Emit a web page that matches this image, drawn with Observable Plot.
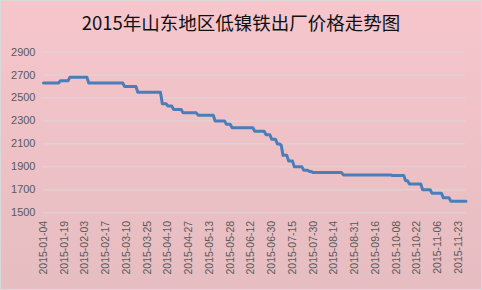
<!DOCTYPE html>
<html>
<head>
<meta charset="utf-8">
<script src="https://cdn.jsdelivr.net/npm/d3@7"></script>
<script src="https://cdn.jsdelivr.net/npm/@observablehq/plot@0.6"></script>
<style>
body { margin: 0; }
#chart { width: 482px; height: 290px; box-sizing: border-box; border: 1px solid #d9d9d9;
  background: linear-gradient(#f6c6cc, #e6bdc1); overflow: hidden; }
#title { height: 36px; box-sizing: border-box; padding-top: 7px; text-align: center;
  font-family: "Noto Sans CJK SC"; font-weight: 400; font-size: 18.5px; line-height: 29px; color: #111; }
svg { display: block; }
</style>
</head>
<body>
<div id="chart"><div id="title">2015年山东地区低镍铁出厂价格走势图</div></div>
<script>
// Category tick labels (one label every 11 trading days)
const tickLabels = ["2015-01-04","2015-01-19","2015-02-03","2015-02-17","2015-03-10","2015-03-25","2015-04-10","2015-04-27","2015-05-13","2015-05-28","2015-06-12","2015-06-30","2015-07-15","2015-07-30","2015-08-14","2015-08-31","2015-09-16","2015-10-08","2015-10-22","2015-11-06","2015-11-23"];
const labelEvery = 11;
const lastDay = 224;
const yTicks = [1500, 1700, 1900, 2100, 2300, 2500, 2700, 2900];

// Price change points: trading-day index and price (yuan)
const pointDay = [0, 8, 9, 13, 14, 23, 24, 42, 43, 49,
  50, 62, 63, 65, 66, 68, 69, 73, 74, 81,
  82, 90, 91, 96, 97, 99, 100, 111, 112, 117,
  118, 120, 121, 123, 124, 125, 126, 127, 129, 130,
  132, 133, 137, 138, 140, 141, 142, 143, 158, 159,
  184, 185, 191, 192, 193, 194, 200, 201, 205, 206,
  211, 212, 215, 216, 224];
const price = [2630, 2630, 2650, 2650, 2680, 2680, 2630, 2630, 2600, 2600,
  2550, 2550, 2450, 2450, 2430, 2430, 2400, 2400, 2370, 2370,
  2350, 2350, 2300, 2300, 2270, 2270, 2240, 2240, 2210, 2210,
  2180, 2180, 2140, 2140, 2100, 2100, 2090, 2000, 2000, 1950,
  1950, 1900, 1900, 1870, 1870, 1860, 1860, 1850, 1850, 1830,
  1830, 1825, 1825, 1780, 1780, 1750, 1750, 1700, 1700, 1670,
  1670, 1630, 1630, 1600, 1600];

const series = pointDay.map((d, i) => ({day: d, price: price[i]}));
const tickDays = tickLabels.map((_, i) => i * labelEvery);

const chart = Plot.plot({
  width: 480,
  height: 252,
  marginLeft: 42,
  marginRight: 15.5,
  marginTop: 14.5,
  marginBottom: 76.7,
  style: {background: "transparent", fontFamily: "Liberation Sans", overflow: "visible"},
  x: {domain: [0, lastDay], axis: null},
  y: {domain: [1500, 2900], axis: null},
  marks: [
    Plot.gridY(yTicks, {stroke: "#d9d9d9", strokeOpacity: 1, strokeWidth: 1}),
    Plot.axisY(yTicks, {tickSize: 0, tickPadding: 8, fontSize: 11, fill: "#595959", label: null, tickFormat: d3.format("d")}),
    Plot.text(tickDays, {x: d => d, frameAnchor: "bottom", text: (d, i) => tickLabels[i],
      rotate: -90, textAnchor: "end", lineAnchor: "middle", dy: 8, fontSize: 10.5, fill: "#595959"}),
    Plot.line(series, {x: "day", y: "price", stroke: "#4a7ebb", strokeWidth: 3, strokeLinejoin: "round"})
  ]
});
document.getElementById("chart").appendChild(chart);
</script>
</body>
</html>
